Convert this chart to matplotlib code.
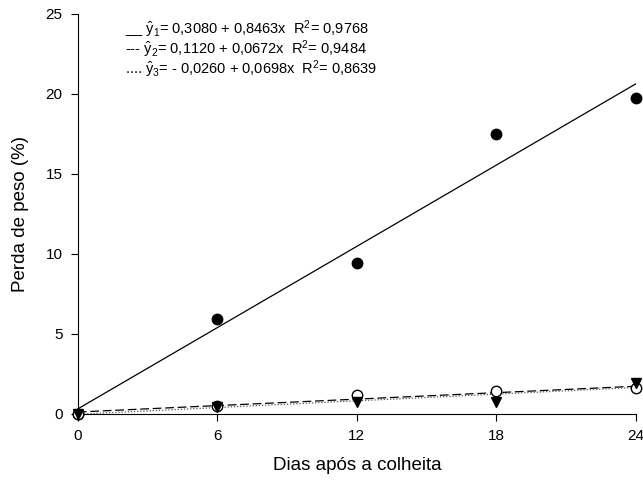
import numpy as np
import matplotlib.pyplot as plt

plt.rcParams['font.family'] = ['Liberation Sans', 'DejaVu Sans']
plt.rcParams['mathtext.fontset'] = 'custom'
plt.rcParams['mathtext.rm'] = 'Liberation Sans'
plt.rcParams['mathtext.it'] = 'Liberation Sans'

# dados
dias = [0, 6, 12, 18, 24]
y1 = [0.0, 5.9, 9.4, 17.5, 19.7]   # circulo cheio
y2 = [0.0, 0.5, 1.2, 1.4, 1.6]     # circulo aberto
y3 = [0.0, 0.45, 0.75, 0.75, 1.9]  # triangulo
# coeficientes das regressoes (a, b)
coef1 = (0.3080, 0.8463)
coef2 = (0.1120, 0.0672)
coef3 = (-0.0260, 0.0698)
legendas = [
    r"__ $\hat{\mathrm{y}}_1$= 0,3080 + 0,8463x  R$^2$= 0,9768",
    r"--- $\hat{\mathrm{y}}_2$= 0,1120 + 0,0672x  R$^2$= 0,9484",
    r".... $\hat{\mathrm{y}}_3$= - 0,0260 + 0,0698x  R$^2$= 0,8639",
]

fig = plt.figure(figsize=(6.43, 4.88), dpi=100)
ax = fig.add_axes([0.121, 0.152, 0.868, 0.820])

x = np.linspace(0, 24, 100)
ax.plot(x, coef1[0] + coef1[1]*x, color='black', lw=0.9)
ax.plot(x, coef2[0] + coef2[1]*x, color='black', lw=0.9, ls=(0, (7, 3)))
ax.plot(x, coef3[0] + coef3[1]*x, color='#555555', lw=0.9, ls=(0, (1, 1.5)))

ax.plot(dias, y1, 'o', color='black', ms=7.5, clip_on=False, zorder=5)
ax.plot(dias, y2, 'o', mfc='white', mec='black', ms=7.5, mew=1, clip_on=False, zorder=5)
ax.plot(dias, y3, 'v', color='black', ms=7.5, clip_on=False, zorder=6)

ax.set_xlim(0, 24)
ax.set_ylim(0, 25)
ax.set_xticks([0, 6, 12, 18, 24])
ax.set_yticks([0, 5, 10, 15, 20, 25])
ax.spines['top'].set_visible(False)
ax.spines['right'].set_visible(False)
ax.tick_params(direction='out', length=5, labelsize=11, pad=6)
ax.set_xlabel('Dias após a colheita', fontsize=13.5, labelpad=10)
ax.set_ylabel('Perda de peso (%)', fontsize=13.5, labelpad=12)

for i, t in enumerate(legendas):
    ax.text(0.085, 0.96 - i*0.05, t, transform=ax.transAxes, fontsize=10.5, va='center')

fig.savefig('out.png', dpi=100)
